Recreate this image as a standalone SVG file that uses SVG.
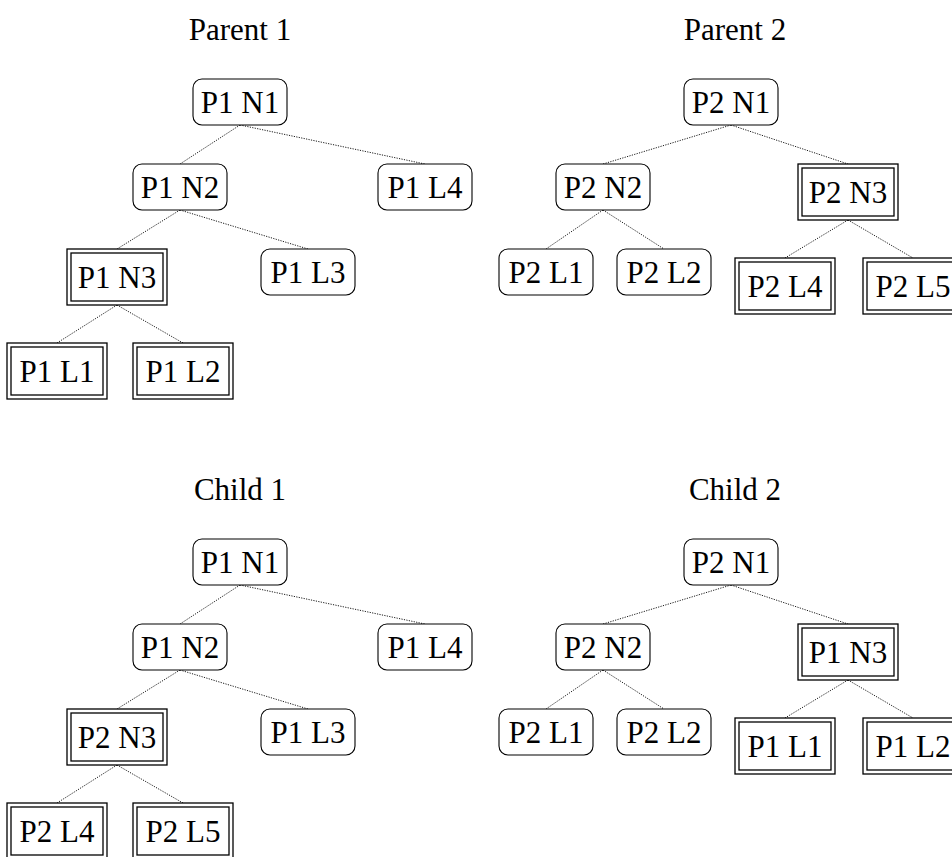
<svg xmlns="http://www.w3.org/2000/svg" width="952" height="857" viewBox="0 0 952 857">
  <style>
    text { font-family: "Liberation Serif", "Times New Roman", serif; font-size: 31px; fill: #000; text-anchor: middle; }
    .r { fill: #fff; stroke: #000; stroke-width: 1.1; }
    .d { fill: #fff; stroke: #000; stroke-width: 1.3; }
    .edge { stroke: #000; stroke-width: 0.9; stroke-dasharray: 1.2 1.3; fill: none; }
  </style>
  <rect width="952" height="857" fill="#fff"/>

  <!-- tree titles -->
  <g id="titles">
    <text x="240" y="40">Parent 1</text>
    <text x="735" y="40">Parent 2</text>
    <text x="240" y="500">Child 1</text>
    <text x="735" y="500">Child 2</text>
  </g>

  <!-- dotted parent-child edges -->
  <g id="edges" class="edge">
    <!-- Parent 1 -->
    <line x1="240" y1="125" x2="180" y2="164"/>
    <line x1="240" y1="125" x2="425" y2="164"/>
    <line x1="180" y1="210" x2="117" y2="249"/>
    <line x1="180" y1="210" x2="308" y2="249"/>
    <line x1="117" y1="305" x2="57" y2="343"/>
    <line x1="117" y1="305" x2="183" y2="343"/>
    <!-- Parent 2 -->
    <line x1="731" y1="125" x2="603" y2="164"/>
    <line x1="731" y1="125" x2="848" y2="164"/>
    <line x1="603" y1="210" x2="546" y2="249"/>
    <line x1="603" y1="210" x2="664" y2="249"/>
    <line x1="848" y1="220" x2="785" y2="258"/>
    <line x1="848" y1="220" x2="913" y2="258"/>
    <!-- Child 1 -->
    <line x1="240" y1="585" x2="180" y2="624"/>
    <line x1="240" y1="585" x2="425" y2="624"/>
    <line x1="180" y1="670" x2="117" y2="709"/>
    <line x1="180" y1="670" x2="308" y2="709"/>
    <line x1="117" y1="765" x2="57" y2="803"/>
    <line x1="117" y1="765" x2="183" y2="803"/>
    <!-- Child 2 -->
    <line x1="731" y1="585" x2="603" y2="624"/>
    <line x1="731" y1="585" x2="848" y2="624"/>
    <line x1="603" y1="670" x2="546" y2="709"/>
    <line x1="603" y1="670" x2="664" y2="709"/>
    <line x1="848" y1="680" x2="785" y2="718"/>
    <line x1="848" y1="680" x2="913" y2="718"/>
  </g>

  <!-- Parent 1 -->
  <g id="p1-n1"><rect class="r" x="193" y="79" width="94" height="46" rx="9"/><text x="240" y="112.5">P1 N1</text></g>
  <g id="p1-n2"><rect class="r" x="133" y="164" width="94" height="46" rx="9"/><text x="180" y="197.5">P1 N2</text></g>
  <g id="p1-l4"><rect class="r" x="378" y="164" width="94" height="46" rx="9"/><text x="425" y="197.5">P1 L4</text></g>
  <g id="p1-n3"><rect class="d" x="67" y="249" width="100" height="56"/><rect class="d" x="71" y="253" width="92" height="48"/><text x="117" y="287.5">P1 N3</text></g>
  <g id="p1-l3"><rect class="r" x="261" y="249" width="94" height="46" rx="9"/><text x="308" y="282.5">P1 L3</text></g>
  <g id="p1-l1"><rect class="d" x="7" y="343" width="100" height="56"/><rect class="d" x="11" y="347" width="92" height="48"/><text x="57" y="381.5">P1 L1</text></g>
  <g id="p1-l2"><rect class="d" x="133" y="343" width="100" height="56"/><rect class="d" x="137" y="347" width="92" height="48"/><text x="183" y="381.5">P1 L2</text></g>

  <!-- Parent 2 -->
  <g id="p2-n1"><rect class="r" x="684" y="79" width="94" height="46" rx="9"/><text x="731" y="112.5">P2 N1</text></g>
  <g id="p2-n2"><rect class="r" x="556" y="164" width="94" height="46" rx="9"/><text x="603" y="197.5">P2 N2</text></g>
  <g id="p2-n3"><rect class="d" x="798" y="164" width="100" height="56"/><rect class="d" x="802" y="168" width="92" height="48"/><text x="848" y="202.5">P2 N3</text></g>
  <g id="p2-l1"><rect class="r" x="499" y="249" width="94" height="46" rx="9"/><text x="546" y="282.5">P2 L1</text></g>
  <g id="p2-l2"><rect class="r" x="617" y="249" width="94" height="46" rx="9"/><text x="664" y="282.5">P2 L2</text></g>
  <g id="p2-l4"><rect class="d" x="735" y="258" width="100" height="56"/><rect class="d" x="739" y="262" width="92" height="48"/><text x="785" y="296.5">P2 L4</text></g>
  <g id="p2-l5"><rect class="d" x="863" y="258" width="100" height="56"/><rect class="d" x="867" y="262" width="92" height="48"/><text x="913" y="296.5">P2 L5</text></g>

  <!-- Child 1 -->
  <g id="c1-n1"><rect class="r" x="193" y="539" width="94" height="46" rx="9"/><text x="240" y="572.5">P1 N1</text></g>
  <g id="c1-n2"><rect class="r" x="133" y="624" width="94" height="46" rx="9"/><text x="180" y="657.5">P1 N2</text></g>
  <g id="c1-l4"><rect class="r" x="378" y="624" width="94" height="46" rx="9"/><text x="425" y="657.5">P1 L4</text></g>
  <g id="c1-n3"><rect class="d" x="67" y="709" width="100" height="56"/><rect class="d" x="71" y="713" width="92" height="48"/><text x="117" y="747.5">P2 N3</text></g>
  <g id="c1-l3"><rect class="r" x="261" y="709" width="94" height="46" rx="9"/><text x="308" y="742.5">P1 L3</text></g>
  <g id="c1-l5a"><rect class="d" x="7" y="803" width="100" height="56"/><rect class="d" x="11" y="807" width="92" height="48"/><text x="57" y="841.5">P2 L4</text></g>
  <g id="c1-l5b"><rect class="d" x="133" y="803" width="100" height="56"/><rect class="d" x="137" y="807" width="92" height="48"/><text x="183" y="841.5">P2 L5</text></g>

  <!-- Child 2 -->
  <g id="c2-n1"><rect class="r" x="684" y="539" width="94" height="46" rx="9"/><text x="731" y="572.5">P2 N1</text></g>
  <g id="c2-n2"><rect class="r" x="556" y="624" width="94" height="46" rx="9"/><text x="603" y="657.5">P2 N2</text></g>
  <g id="c2-n3"><rect class="d" x="798" y="624" width="100" height="56"/><rect class="d" x="802" y="628" width="92" height="48"/><text x="848" y="662.5">P1 N3</text></g>
  <g id="c2-l1"><rect class="r" x="499" y="709" width="94" height="46" rx="9"/><text x="546" y="742.5">P2 L1</text></g>
  <g id="c2-l2"><rect class="r" x="617" y="709" width="94" height="46" rx="9"/><text x="664" y="742.5">P2 L2</text></g>
  <g id="c2-l3"><rect class="d" x="735" y="718" width="100" height="56"/><rect class="d" x="739" y="722" width="92" height="48"/><text x="785" y="756.5">P1 L1</text></g>
  <g id="c2-l4"><rect class="d" x="863" y="718" width="100" height="56"/><rect class="d" x="867" y="722" width="92" height="48"/><text x="913" y="756.5">P1 L2</text></g>
</svg>
